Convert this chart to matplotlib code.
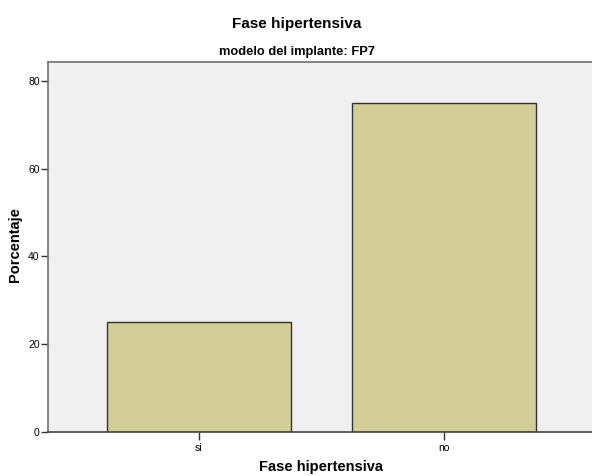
import matplotlib
matplotlib.use("Agg")
import matplotlib.pyplot as plt

categories = ["si", "no"]
values = [25, 75]
yticks = [0, 20, 40, 60, 80]

title = "Fase hipertensiva"
subtitle = "modelo del implante: FP7"
xlabel = "Fase hipertensiva"
ylabel = "Porcentaje"

plt.rcParams['font.family'] = ['Liberation Sans', 'DejaVu Sans']

W, H = 592, 476
fig = plt.figure(figsize=(W/100, H/100), dpi=100)
ax = fig.add_axes([48/W, (H-432)/H, (596-48)/W, (432-62)/H])
ax.set_facecolor('#F0F0F0')

x = list(range(len(categories)))
ax.bar(x, values, width=0.75, color='#D3CE97', edgecolor='#333333', linewidth=1.0, zorder=2)

ax.set_xlim(-0.616, 1.62)
ax.set_ylim(0, 84.3)
ax.set_xticks(x)
ax.set_xticklabels(categories, fontsize=7.5)
ax.set_yticks(yticks)
ax.set_yticklabels([str(v) for v in yticks], fontsize=7.5)
ax.tick_params(axis='y', length=5, width=1, color='#333333', pad=1)
ax.tick_params(axis='x', length=6, width=1, color='#333333', pad=2)

for s in ['left', 'bottom', 'top']:
    ax.spines[s].set_color('#707070')
    ax.spines[s].set_linewidth(1.2)
ax.spines['bottom'].set_color('#444444')
ax.spines['right'].set_visible(False)

fig.text(297/W, 1 - 24/H, title, ha='center', va='center', fontsize=11, fontweight='bold')
fig.text(297/W, 1 - 52/H, subtitle, ha='center', va='center', fontsize=9.3, fontweight='bold')
fig.text(321/W, 1 - 467/H, xlabel, ha='center', va='center', fontsize=10.5, fontweight='bold')
fig.text(15/W, 1 - 245/H, ylabel, ha='center', va='center', rotation=90, fontsize=10.5, fontweight='bold')

fig.savefig('out.png', dpi=100)
